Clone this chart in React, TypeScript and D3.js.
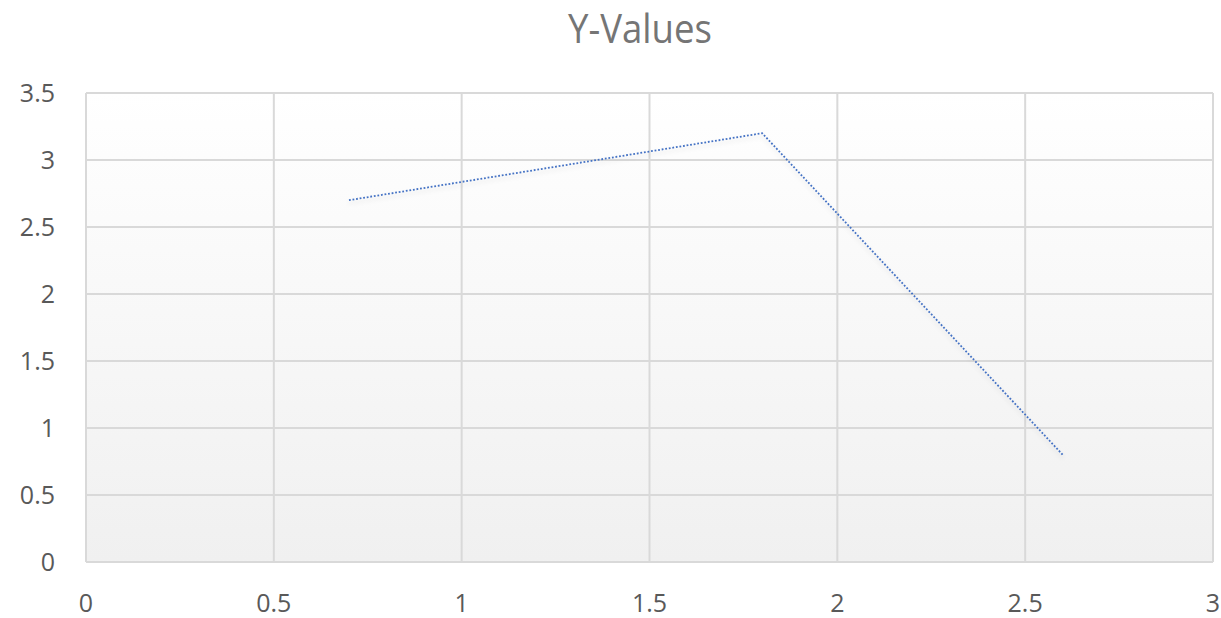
import React, { useEffect, useRef } from "react";
import * as d3 from "d3";

const xValues = [0.7, 1.8, 2.6];
const yValues = [2.7, 3.2, 0.8];
const xTicks = [0, 0.5, 1, 1.5, 2, 2.5, 3];
const yTicks = [0, 0.5, 1, 1.5, 2, 2.5, 3, 3.5];
const title = "Y-Values";

const W = 1221;
const H = 618;
const M = { left: 86, right: 8, top: 93, bottom: 56 };

export default function App() {
  const ref = useRef<SVGSVGElement>(null);
  useEffect(() => {
    const svg = d3.select(ref.current);
    svg.selectAll("*").remove();
    const x = d3.scaleLinear().domain([0, 3]).range([M.left, W - M.right]);
    const y = d3.scaleLinear().domain([0, 3.5]).range([H - M.bottom, M.top]);
    const font = "Open Sans, Liberation Sans, sans-serif";

    const defs = svg.append("defs");
    const g = defs.append("linearGradient").attr("id", "bg").attr("x1", 0).attr("y1", 0).attr("x2", 0).attr("y2", 1);
    g.append("stop").attr("offset", "0%").attr("stop-color", "#ffffff");
    g.append("stop").attr("offset", "100%").attr("stop-color", "#f0f0f0");
    const f = defs.append("filter").attr("id", "sh").attr("x", "-10%").attr("y", "-10%").attr("width", "120%").attr("height", "130%");
    f.append("feDropShadow").attr("dx", 0).attr("dy", 3).attr("stdDeviation", 2).attr("flood-color", "#000").attr("flood-opacity", 0.12);

    svg.append("rect")
      .attr("x", x(0)).attr("y", y(3.5))
      .attr("width", x(3) - x(0)).attr("height", y(0) - y(3.5))
      .attr("fill", "url(#bg)");

    svg.append("g").selectAll("line").data(yTicks).join("line")
      .attr("x1", x(0)).attr("x2", x(3))
      .attr("y1", d => y(d)).attr("y2", d => y(d))
      .attr("stroke", "#d9d9d9").attr("stroke-width", 2);
    svg.append("g").selectAll("line").data(xTicks).join("line")
      .attr("y1", y(0)).attr("y2", y(3.5))
      .attr("x1", d => x(d)).attr("x2", d => x(d))
      .attr("stroke", "#d9d9d9").attr("stroke-width", 2);

    svg.append("g").selectAll("text").data(yTicks).join("text")
      .attr("x", 55).attr("y", d => y(d) + 9)
      .attr("text-anchor", "end").attr("font-family", font).attr("font-size", 25).attr("fill", "#595959")
      .text(d => String(d));
    svg.append("g").selectAll("text").data(xTicks).join("text")
      .attr("x", d => x(d)).attr("y", 612)
      .attr("text-anchor", "middle").attr("font-family", font).attr("font-size", 25).attr("fill", "#595959")
      .text(d => String(d));

    svg.append("text").attr("x", 640).attr("y", 43).attr("text-anchor", "middle")
      .attr("font-family", font).attr("font-size", 40).attr("fill", "#757575")
      .attr("textLength", 144).attr("lengthAdjust", "spacingAndGlyphs").text(title);

    const pts = xValues.map((v, i) => [v, yValues[i]] as [number, number]);
    const line = d3.line<[number, number]>().x(d => x(d[0])).y(d => y(d[1]));
    svg.append("path").datum(pts).attr("d", line)
      .attr("fill", "none").attr("stroke", "#4472c4").attr("stroke-width", 1.8)
      .attr("stroke-dasharray", "1.8 1.8").attr("filter", "url(#sh)");
  }, []);
  return (
    <svg ref={ref} width={W} height={H} style={{ position: "absolute", left: 0, top: 0, background: "#fff" }} />
  );
}
